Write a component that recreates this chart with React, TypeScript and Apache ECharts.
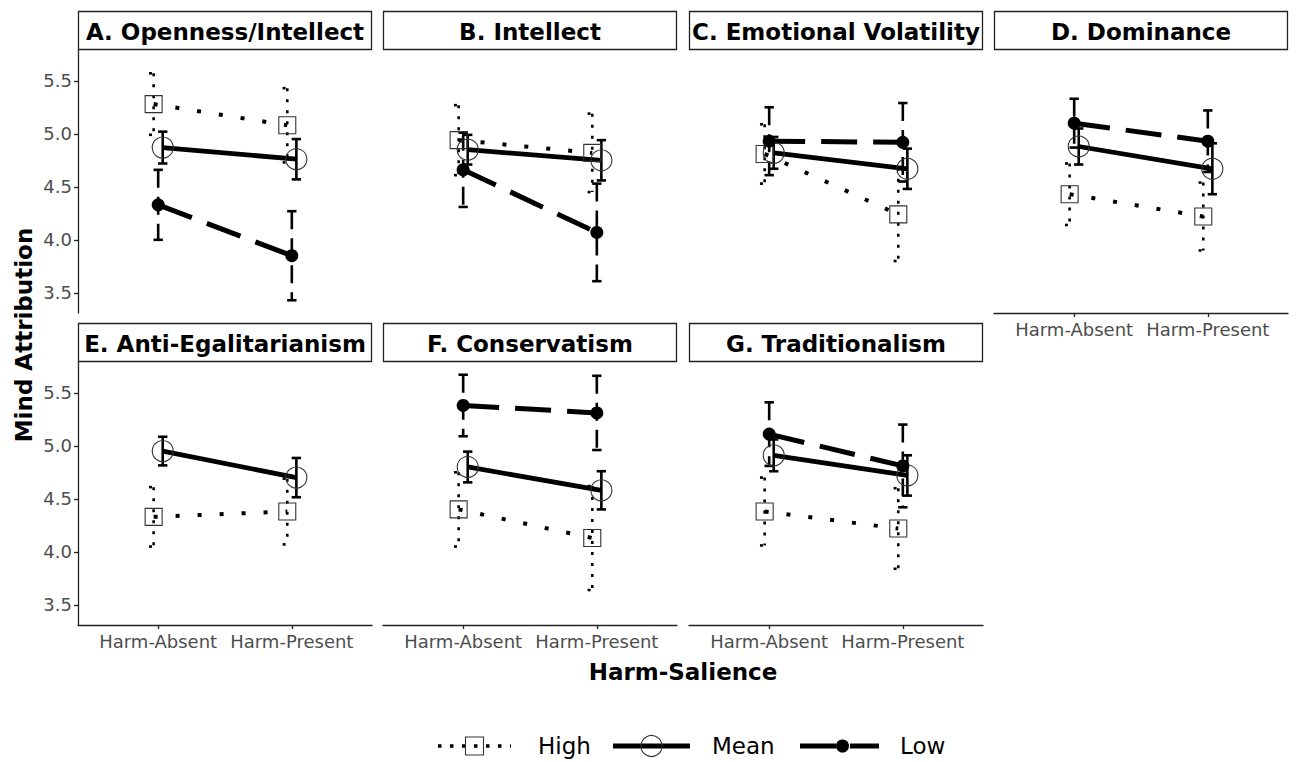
import React, { useEffect, useRef } from 'react';
import * as echarts from 'echarts';

// ---------------- data ----------------
const panelTitles = [
  'A. Openness/Intellect',
  'B. Intellect',
  'C. Emotional Volatility',
  'D. Dominance',
  'E. Anti-Egalitarianism',
  'F. Conservatism',
  'G. Traditionalism',
];
const conditions = ['Harm-Absent', 'Harm-Present'];
const yTicks = [3.5, 4.0, 4.5, 5.0, 5.5];
const groupNames = ['High', 'Mean', 'Low'];

// values per panel: [Harm-Absent, Harm-Present]
const highValues = [[5.28, 5.08], [4.94, 4.82], [4.81, 4.24], [4.43, 4.22], [4.33, 4.38], [4.40, 4.13], [4.38, 4.22]];
const highErrors = [[0.29, 0.35], [0.33, 0.37], [0.28, 0.44], [0.29, 0.32], [0.28, 0.31], [0.35, 0.49], [0.32, 0.38]];
const meanValues = [[4.87, 4.76], [4.85, 4.75], [4.82, 4.67], [4.88, 4.67], [4.95, 4.70], [4.80, 4.58], [4.91, 4.72]];
const meanErrors = [[0.15, 0.19], [0.14, 0.19], [0.15, 0.19], [0.17, 0.24], [0.135, 0.185], [0.145, 0.18], [0.15, 0.19]];
const lowValues = [[4.33, 3.85], [4.66, 4.07], [4.93, 4.92], [5.10, 4.93], null, [5.38, 5.31], [5.11, 4.81]];
const lowErrors = [[0.33, 0.42], [0.35, 0.46], [0.32, 0.37], [0.23, 0.29], null, [0.29, 0.35], [0.30, 0.39]];

// ---------------- layout / style ----------------
const FONT = "'DejaVu Sans', 'Liberation Sans', sans-serif";
const COLS = [78, 383, 689, 994];
const ROWS = [50, 362];
const PANEL_W = 294;
const PANEL_H = 263;
const STRIP_H = 39;
const panelCell = [[0, 0], [0, 1], [0, 2], [0, 3], [1, 0], [1, 1], [1, 2]];
const showX = [false, false, false, true, true, true, true];
const showY = [true, false, false, false, true, false, false];
const Y_MIN = 3.31;
const Y_MAX = 5.79;
const AXIS_COLOR = '#222222';
const LABEL_COLOR = '#4D4D4D';

const groupStyles: any = {
  High: {
    values: highValues, errors: highErrors, dodge: -0.034,
    symbol: 'rect', size: 17, fill: 'rgba(0,0,0,0)', border: '#333', borderWidth: 1.1,
    lineWidth: 4, lineType: [4, 18], errWidth: 2.6, errType: [3, 8],
  },
  Mean: {
    values: meanValues, errors: meanErrors, dodge: 0.034,
    symbol: 'circle', size: 21, fill: 'rgba(0,0,0,0)', border: '#333', borderWidth: 1.1,
    lineWidth: 4.8, lineType: 'solid', errWidth: 2.6, errType: 'solid',
  },
  Low: {
    values: lowValues, errors: lowErrors, dodge: 0,
    symbol: 'circle', size: 13, fill: '#000', border: '#000', borderWidth: 0,
    lineWidth: 5, lineType: [36, 16], errWidth: 2.6, errType: [18, 9],
  },
};
const CAP_W = 0.07;

function buildOption() {
  const grid: any[] = [];
  const xAxis: any[] = [];
  const yAxis: any[] = [];
  const series: any[] = [];
  const elements: any[] = [];

  panelTitles.forEach((title, p) => {
    const [r, c] = panelCell[p];
    const left = COLS[c];
    const top = ROWS[r];
    grid.push({ left, top, width: PANEL_W, height: PANEL_H, containLabel: false });
    const axisLineStyle = { color: AXIS_COLOR, width: 1.3 };
    xAxis.push({
      type: 'value', gridIndex: p, min: 0.4, max: 2.6,
      axisLine: { show: showX[p], onZero: false, lineStyle: axisLineStyle },
      axisTick: { show: showX[p], customValues: [1, 2], length: 4, lineStyle: axisLineStyle },
      axisLabel: {
        show: showX[p], customValues: [1, 2],
        formatter: (v: number) => conditions[Math.round(v) - 1] || '',
        color: LABEL_COLOR, fontSize: 18, fontFamily: FONT, margin: 7,
      },
      splitLine: { show: false },
    });
    yAxis.push({
      type: 'value', gridIndex: p, min: Y_MIN, max: Y_MAX,
      axisLine: { show: showY[p], onZero: false, lineStyle: axisLineStyle },
      axisTick: { show: showY[p], customValues: yTicks, length: 4, lineStyle: axisLineStyle },
      axisLabel: {
        show: showY[p], customValues: yTicks,
        formatter: (v: number) => v.toFixed(1),
        color: LABEL_COLOR, fontSize: 18, fontFamily: FONT, margin: 6,
      },
      splitLine: { show: false },
    });

    // strip
    elements.push({
      type: 'rect', shape: { x: left + 0.5, y: top - STRIP_H + 0.5, width: PANEL_W - 1, height: STRIP_H - 1 },
      style: { fill: '#fff', stroke: AXIS_COLOR, lineWidth: 1.3 }, silent: true,
    });
    elements.push({
      type: 'text', x: left + PANEL_W / 2, y: top - STRIP_H / 2 + 1,
      style: {
        text: title, fill: '#000', font: `bold 23px ${FONT}`,
        align: 'center', verticalAlign: 'middle', textAlign: 'center', textVerticalAlign: 'middle',
      },
      silent: true,
    });

    groupNames.forEach((g) => {
      const gs = groupStyles[g];
      const vals = gs.values[p];
      const errs = gs.errors[p];
      if (!vals) return;
      const pts = conditions.map((_, k) => [k + 1 + gs.dodge, vals[k]]);
      const bars = conditions.map((_, k) => [k + 1 + gs.dodge, vals[k] - errs[k], vals[k] + errs[k]]);
      series.push({
        type: 'custom', name: g + ' CI', xAxisIndex: p, yAxisIndex: p, data: bars,
        encode: { x: 0, y: [1, 2] }, z: 2, silent: true,
        renderItem: (params: any, api: any) => {
          const x = api.value(0);
          const lo = api.coord([x, api.value(1)]);
          const hi = api.coord([x, api.value(2)]);
          const hw = api.size([CAP_W, 0])[0] / 2;
          const style = {
            stroke: '#000', lineWidth: gs.errWidth, fill: null,
            lineDash: gs.errType === 'solid' ? null : gs.errType,
          };
          return {
            type: 'group',
            children: [
              { type: 'line', shape: { x1: hi[0], y1: hi[1], x2: lo[0], y2: lo[1] }, style },
              { type: 'line', shape: { x1: hi[0] - hw, y1: hi[1], x2: hi[0] + hw, y2: hi[1] }, style },
              { type: 'line', shape: { x1: lo[0] - hw, y1: lo[1], x2: lo[0] + hw, y2: lo[1] }, style },
            ],
          };
        },
      });
      series.push({
        type: 'line', name: g, xAxisIndex: p, yAxisIndex: p, data: pts,
        symbol: gs.symbol, symbolSize: gs.size, showSymbol: true, z: 3, silent: true,
        lineStyle: { color: '#000', width: gs.lineWidth, type: gs.lineType, cap: 'butt' },
        itemStyle: { color: gs.fill, borderColor: gs.border, borderWidth: gs.borderWidth },
        emphasis: { disabled: true },
      });
    });
  });

  // axis titles
  elements.push({
    type: 'text', x: 24, y: 335, rotation: Math.PI / 2,
    style: {
      text: 'Mind Attribution', fill: '#000', font: `bold 23px ${FONT}`,
      align: 'center', verticalAlign: 'middle', textAlign: 'center', textVerticalAlign: 'middle',
    },
    silent: true,
  });
  elements.push({
    type: 'text', x: 683, y: 672,
    style: {
      text: 'Harm-Salience', fill: '#000', font: `bold 23px ${FONT}`,
      align: 'center', verticalAlign: 'middle', textAlign: 'center', textVerticalAlign: 'middle',
    },
    silent: true,
  });

  // legend
  const LY = 746;
  const legendItems = [
    { name: 'High', x1: 438, x2: 511, tx: 538 },
    { name: 'Mean', x1: 613, x2: 690, tx: 712 },
    { name: 'Low', x1: 800, x2: 879, tx: 900 },
  ];
  legendItems.forEach((it) => {
    const cx = (it.x1 + it.x2) / 2;
    let dash: any = null;
    if (it.name === 'High') dash = [3.5, 8.5];
    if (it.name === 'Low') dash = [36, 14];
    elements.push({
      type: 'line', shape: { x1: it.x1, y1: LY, x2: it.x2, y2: LY },
      style: { stroke: '#000', lineWidth: it.name === 'High' ? 3.5 : 4.8, lineDash: dash }, silent: true,
    });
    if (it.name === 'High') {
      elements.push({
        type: 'rect', shape: { x: cx - 9, y: LY - 9, width: 18, height: 18 },
        style: { fill: 'rgba(0,0,0,0)', stroke: '#333', lineWidth: 1.1 }, silent: true,
      });
    } else if (it.name === 'Mean') {
      elements.push({
        type: 'circle', shape: { cx, cy: LY, r: 10.5 },
        style: { fill: 'rgba(0,0,0,0)', stroke: '#333', lineWidth: 1.1 }, silent: true,
      });
    } else {
      elements.push({
        type: 'circle', shape: { cx: cx + 3, cy: LY, r: 6.5 },
        style: { fill: '#000' }, silent: true,
      });
    }
    elements.push({
      type: 'text', x: it.tx, y: LY,
      style: {
        text: it.name, fill: '#000', font: `23px ${FONT}`,
        align: 'left', verticalAlign: 'middle', textAlign: 'left', textVerticalAlign: 'middle',
      },
      silent: true,
    });
  });

  return {
    animation: false,
    backgroundColor: '#fff',
    grid, xAxis, yAxis, series,
    graphic: { elements },
  };
}

export default function App() {
  const ref = useRef<HTMLDivElement>(null);
  useEffect(() => {
    if (!ref.current) return;
    const chart = echarts.init(ref.current, undefined, { renderer: 'svg' });
    chart.setOption(buildOption() as any);
    return () => chart.dispose();
  }, []);
  return (
    <div
      ref={ref}
      style={{ position: 'fixed', left: 0, top: 0, width: 1299, height: 762, background: '#fff' }}
    />
  );
}
